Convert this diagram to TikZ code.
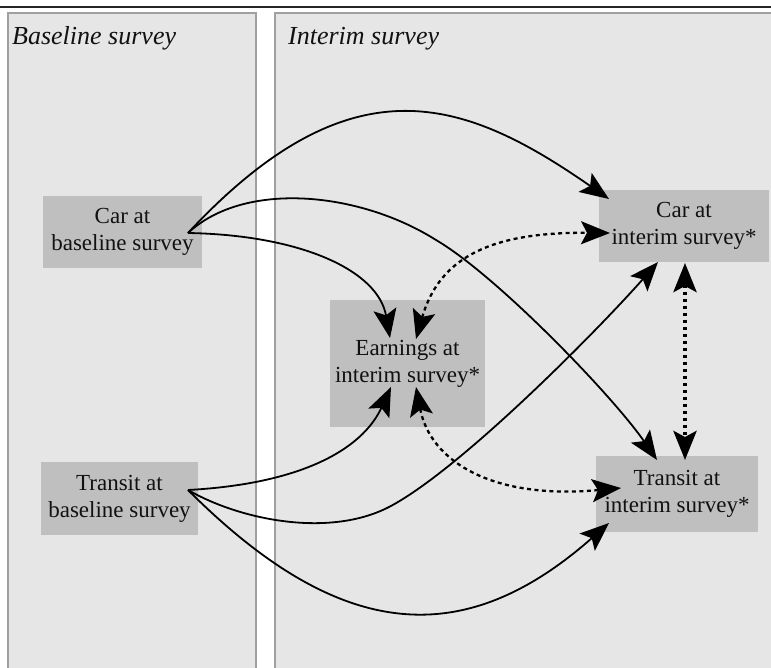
\documentclass[tikz,border=0pt]{standalone}
\usepackage{fontspec}
\setmainfont{Liberation Serif}
\usetikzlibrary{arrows.meta}
\definecolor{panelfill}{HTML}{E6E6E6}
\definecolor{panelborder}{HTML}{A0A0A0}
\definecolor{nodefill}{HTML}{BFBFBF}
\definecolor{inkcol}{HTML}{111111}
\begin{document}
\begin{tikzpicture}[x=1pt,y=-1pt,
  panel/.style={draw=panelborder, fill=panelfill, line width=1.5pt},
  var/.style={fill=nodefill, draw=none, align=center, text=inkcol,
    font=\fontsize{23}{27}\selectfont, inner sep=0pt},
  title/.style={font=\fontsize{26}{30}\selectfont\itshape, anchor=base west, inner sep=0pt, text=inkcol},
  causal/.style={draw=black, line width=1.8pt, arrows={-Stealth[length=29pt,width=23pt,inset=6pt]}},
  assoc/.style={draw=black, line width=2.3pt, dash pattern=on 4pt off 3.5pt,
    arrows={Stealth[length=29pt,width=23pt,inset=6pt]-Stealth[length=29pt,width=23pt,inset=6pt]}},
  assocthick/.style={draw=black, line width=4.5pt, dash pattern=on 3.5pt off 3.5pt,
    arrows={Stealth[length=29pt,width=23pt,inset=6pt]-Stealth[length=29pt,width=23pt,inset=6pt]}}
]
\clip (0,0) rectangle (771,668);
\useasboundingbox (0,0) rectangle (771,668);
\fill[white] (0,0) rectangle (771,668);
\draw[line width=1.5pt, black!85] (0,7) -- (771,7);
\path[panel] (8,13) rectangle (256,690);
\path[panel] (275,13) rectangle (790,690);
\node[title] (tb) at (12,45) {Baseline survey};
\node[title] (ti) at (288,45) {Interim survey};

\node[var, minimum width=159pt, minimum height=72pt] (carb) at (122.5,232) {Car at\\baseline survey};
\node[var, minimum width=157pt, minimum height=73pt] (trab) at (119.5,498.5) {Transit at\\baseline survey};
\node[var, minimum width=155pt, minimum height=127pt] (earn) at (407.5,363.5) {Earnings at\\interim survey*};
\node[var, minimum width=170pt, minimum height=72pt] (cari) at (684,226) {Car at\\interim survey*};
\node[var, minimum width=162pt, minimum height=76pt] (trai) at (677,494) {Transit at\\interim survey*};

\coordinate (carbo) at (188,233);
\coordinate (trabo) at (188,490);
\coordinate (earnt) at (390,338);
\coordinate (earnb) at (391,387);
\coordinate (earntr) at (416,339);
\coordinate (earnbr) at (416,387);
\coordinate (caril) at (609,199);
\coordinate (carib) at (658,262);
\coordinate (caril2) at (610,233);
\coordinate (caribr) at (685,263);
\coordinate (trait) at (657,460);
\coordinate (trail) at (621,488);
\coordinate (trailb) at (609,523);
\coordinate (traitr) at (685,460);

\draw[causal] (carbo) .. controls (352,57) and (465,99) .. (caril);
\draw[causal] (carbo) .. controls (245,180) and (360,192) .. (436,240) .. controls (496,275) and (612,395) .. (trait);
\draw[causal] (carbo) .. controls (300,235) and (378,270) .. (earnt);
\draw[causal] (trabo) .. controls (300,484) and (362,450) .. (earnb);
\draw[causal] (trabo) .. controls (240,520) and (329,538) .. (389,507) .. controls (460,470) and (598,330) .. (carib);
\draw[causal] (trabo) .. controls (343,645) and (466,649) .. (trailb);
\draw[assoc] (earntr) .. controls (440,255) and (495,232) .. (caril2);
\draw[assoc] (earnbr) .. controls (430,460) and (490,500) .. (trail);
\draw[assocthick] (caribr) -- (traitr);
\end{tikzpicture}
\end{document}
